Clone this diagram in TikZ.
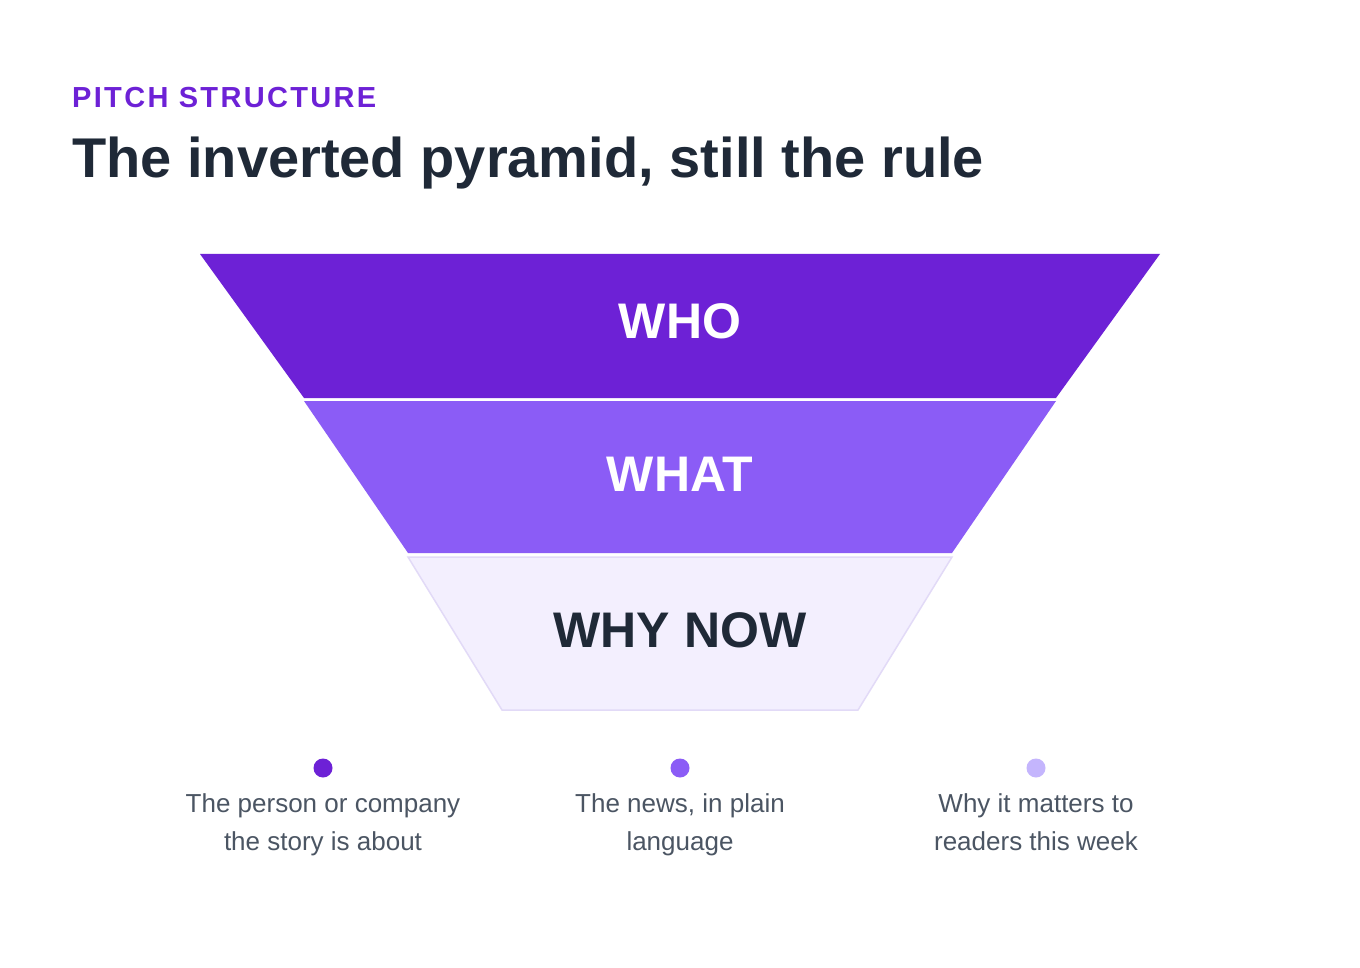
\documentclass[tikz,border=0pt]{standalone}
\usepackage{fontspec}
\setmainfont{Liberation Sans}
\newfontfamily\spacedfont[LetterSpace=8]{Liberation Sans}
\usepackage{xcolor}
\usetikzlibrary{positioning}
\definecolor{deep}{HTML}{6D21D6}
\definecolor{mid}{HTML}{8B5CF6}
\definecolor{pale}{HTML}{F3EFFE}
\definecolor{paleline}{HTML}{E2DAF7}
\definecolor{dotpale}{HTML}{C4B5FD}
\definecolor{ink}{HTML}{1F2937}
\definecolor{note}{HTML}{4B5563}
\begin{document}
\begin{tikzpicture}[x=1pt,y=-1pt,
  tier/.style={font=\fontsize{50}{56}\selectfont\bfseries, #1},
  dot/.style={circle, fill=#1, inner sep=0pt, minimum size=19pt},
  desc/.style={font=\fontsize{26}{38}\selectfont, text=note, align=center}
]
\useasboundingbox[fill=white] (0,0) rectangle (1360,968);
% Heading
\node[anchor=base west, inner sep=0pt, text=deep, font=\spacedfont\fontsize{29}{32}\selectfont\bfseries] (kicker) at (72,108) {PITCH STRUCTURE};
\node[anchor=base west, inner sep=0pt, text=ink, font=\fontsize{56}{60}\selectfont\bfseries] (title) at (72,178) {The inverted pyramid, still the rule};
% Pyramid tiers
\fill[deep] (200,254) -- (1160,254) -- (1056,398) -- (304,398) -- cycle;
\fill[mid] (304,401) -- (1056,401) -- (952,553) -- (408,553) -- cycle;
\filldraw[fill=pale, draw=paleline, line width=1.5pt] (408,557) -- (952,557) -- (858,710) -- (502,710) -- cycle;
\node[tier=white] (who) at (680,321) {WHO};
\node[tier=white] (what) at (680,474) {WHAT};
\node[tier=ink] (whynow) at (680,630) {WHY NOW};
% Legend
\node[dot=deep] (d1) at (323,768) {};
\node[dot=mid] (d2) at (680,768) {};
\node[dot=dotpale] (d3) at (1036,768) {};
\node[desc, anchor=north] (t1) at (323,790) {The person or company\\the story is about};
\node[desc, anchor=north] (t2) at (680,790) {The news, in plain\\language};
\node[desc, anchor=north] (t3) at (1036,790) {Why it matters to\\readers this week};
\end{tikzpicture}
\end{document}
